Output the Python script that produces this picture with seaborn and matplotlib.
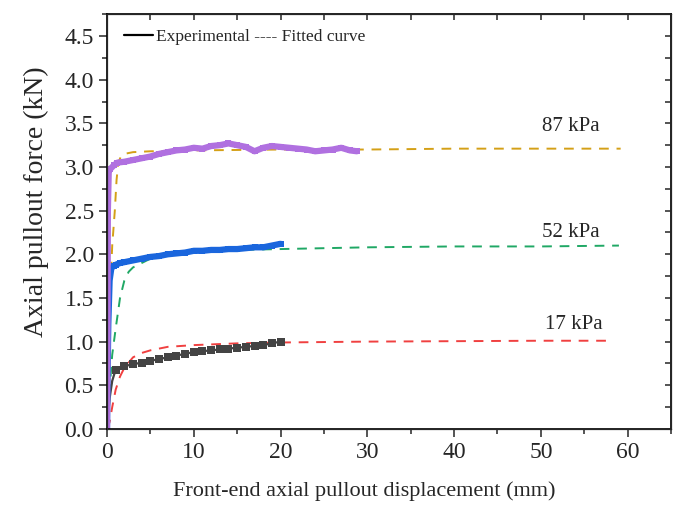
import matplotlib
matplotlib.use('Agg')
import matplotlib.pyplot as plt
import seaborn as sns
from matplotlib.lines import Line2D
from matplotlib.ticker import MultipleLocator

# Experimental and fitted curves
exp17_x = [0, 0.1, 0.3, 0.6, 1, 2, 3, 4, 5, 6, 7, 8, 9, 10, 11, 12, 13, 14, 15, 16, 17, 18, 19, 20]
exp17_y = [0, 0.12, 0.35, 0.55, 0.68, 0.72, 0.74, 0.76, 0.78, 0.80, 0.82, 0.84, 0.86, 0.88, 0.89,
           0.90, 0.91, 0.92, 0.93, 0.94, 0.95, 0.96, 0.98, 1.0]

fit17_x = [0, 0.3, 0.6, 1, 1.5, 2, 3, 4, 5, 7, 10, 15, 20, 30, 40, 50, 58]
fit17_y = [0, 0.08, 0.25, 0.45, 0.6, 0.7, 0.82, 0.87, 0.9, 0.94, 0.96, 0.98, 0.99, 1.0, 1.005, 1.01, 1.01]

exp52_x = [0, 0.05, 0.15, 0.3, 0.5, 0.8, 1, 1.5, 2, 3, 4, 5, 6, 7, 8, 9, 10, 11, 12, 13, 14, 15,
           16, 17, 18, 19, 20]
exp52_y = [0, 0.5, 1.2, 1.7, 1.84, 1.87, 1.88, 1.9, 1.91, 1.93, 1.95, 1.97, 1.98, 2.0, 2.01, 2.02,
           2.04, 2.04, 2.05, 2.05, 2.06, 2.06, 2.07, 2.08, 2.08, 2.1, 2.12]

fit52_x = [0, 0.3, 0.6, 1, 1.5, 2, 2.5, 3, 4, 5, 7, 10, 15, 20, 30, 40, 50, 59]
fit52_y = [0, 0.45, 0.85, 1.15, 1.5, 1.7, 1.8, 1.85, 1.9, 1.95, 2.0, 2.03, 2.05, 2.06, 2.08, 2.09, 2.09, 2.1]

exp87_x = [0, 0.05, 0.1, 0.2, 0.4, 0.8, 1.2, 2, 3, 4, 5, 6, 7, 8, 9, 10, 11, 12, 13, 14, 15, 16,
           17, 18, 19, 20, 21, 22, 23, 24, 25, 26, 27, 28, 28.8]
exp87_y = [0, 1.0, 2.5, 2.95, 2.98, 3.02, 3.05, 3.06, 3.08, 3.1, 3.12, 3.15, 3.17, 3.19, 3.2, 3.22,
           3.21, 3.24, 3.25, 3.27, 3.25, 3.23, 3.18, 3.22, 3.24, 3.23, 3.22, 3.21, 3.2, 3.18, 3.19,
           3.2, 3.22, 3.19, 3.18]

fit87_x = [0, 0.15, 0.35, 0.6, 0.9, 1.1, 1.3, 1.6, 2, 3, 5, 10, 20, 30, 40, 50, 59.2]
fit87_y = [0, 0.38, 1.5, 2.1, 2.5, 2.85, 3.05, 3.12, 3.15, 3.17, 3.18, 3.19, 3.2, 3.2, 3.21, 3.21, 3.21]

labels = ['17 kPa', '52 kPa', '87 kPa']
label_x = [53.8, 53.4, 53.4]
label_y = [1.2, 2.25, 3.46]

sns.set_style('ticks')
plt.rcParams['font.family'] = ['Liberation Serif', 'DejaVu Serif']

fig = plt.figure(figsize=(6.73, 5.07), dpi=100)
ax = fig.add_axes([0.159, 0.154, 0.838, 0.818])

dash = (5, 4)
sns.lineplot(x=fit17_x, y=fit17_y, sort=False, estimator=None, color='#f04040', lw=1.4, linestyle=(0, dash), ax=ax)
sns.lineplot(x=fit52_x, y=fit52_y, sort=False, estimator=None, color='#20a865', lw=1.4, linestyle=(0, dash), ax=ax)
sns.lineplot(x=fit87_x, y=fit87_y, sort=False, estimator=None, color='#d4a017', lw=1.4, linestyle=(0, dash), ax=ax)

sns.lineplot(x=exp17_x, y=exp17_y, sort=False, estimator=None, color='#444444', lw=1.6,
             marker='s', markersize=6, markeredgewidth=0, markevery=list(range(4, len(exp17_x))), ax=ax)
sns.lineplot(x=exp52_x, y=exp52_y, sort=False, estimator=None, color='#1a66dd', lw=4.5,
             marker='s', markersize=5, markeredgewidth=0, markevery=list(range(5, len(exp52_x))), ax=ax)
sns.lineplot(x=exp87_x, y=exp87_y, sort=False, estimator=None, color='#b070e0', lw=4.5,
             marker='s', markersize=5, markeredgewidth=0, markevery=list(range(4, len(exp87_x))), ax=ax)

for lab, lx, ly in zip(labels, label_x, label_y):
    ax.text(lx, ly, lab, fontsize=15, ha='center', va='center')

ax.set_xlim(0, 65)
ax.set_ylim(0, 4.75)
ax.xaxis.set_major_locator(MultipleLocator(10))
ax.xaxis.set_minor_locator(MultipleLocator(5))
ax.yaxis.set_major_locator(MultipleLocator(0.5))
ax.yaxis.set_minor_locator(MultipleLocator(0.25))
ax.yaxis.set_major_formatter(matplotlib.ticker.FormatStrFormatter('%.1f'))
ax.tick_params(which='both', direction='out', labelsize=17, width=1.1, top=False, right=False)
ax.tick_params(which='major', length=6)
ax.tick_params(which='minor', length=3.5)
for s in ax.spines.values():
    s.set_linewidth(1.2)
    s.set_color('black')

# inward mirror ticks on top and right
ax2 = ax.twinx()
ax2.set_ylim(ax.get_ylim())
ax2.yaxis.set_major_locator(MultipleLocator(0.5))
ax2.yaxis.set_minor_locator(MultipleLocator(0.25))
ax2.tick_params(which='both', direction='in', length=4, width=1.1, labelright=False)
ax3 = ax.twiny()
ax3.set_xlim(ax.get_xlim())
ax3.xaxis.set_major_locator(MultipleLocator(10))
ax3.xaxis.set_minor_locator(MultipleLocator(5))
ax3.tick_params(which='both', direction='in', length=4, width=1.1, labeltop=False)

ax.set_xlabel('Front-end axial pullout displacement (mm)', fontsize=16)
ax.set_ylabel('Axial pullout force (kN)', fontsize=20)
ax.xaxis.set_label_coords(0.457, -0.127)
ax.yaxis.set_label_coords(-0.103, 0.547)

ax.legend(handles=[Line2D([0], [0], color='black', lw=1.6)], labels=['Experimental ---- Fitted curve'],
          loc='upper left', bbox_to_anchor=(0.03, 0.965), frameon=False, fontsize=12.5,
          handlelength=1.67, handletextpad=0.2, borderaxespad=0, borderpad=0)

fig.savefig('out.png', dpi=100)
